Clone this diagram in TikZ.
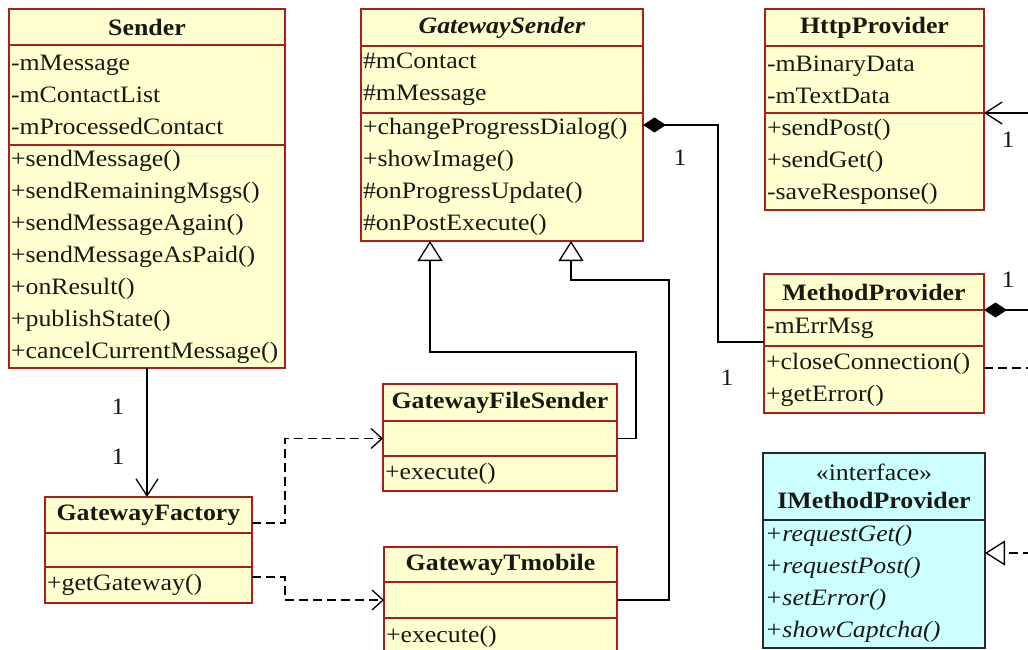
\documentclass[tikz,border=0pt]{standalone}
\usepackage{fontspec}
\setmainfont{Liberation Serif}[FakeStretch=1.1]
\usetikzlibrary{arrows.meta}
\definecolor{umlred}{RGB}{170,30,30}
\definecolor{umlyellow}{RGB}{255,255,208}
\definecolor{umlcyan}{RGB}{204,255,255}
\definecolor{umlgray}{RGB}{40,40,40}
\definecolor{umltext}{RGB}{25,25,20}
\newcommand\umlfont{\fontsize{23.5bp}{32bp}\selectfont}
\tikzset{
  cls/.style={draw=umlred, fill=umlyellow, line width=1.3bp, anchor=north west,
    inner xsep=2bp, inner ysep=0pt, outer sep=0pt, text=umltext, font=\umlfont},
  ttl/.style={cls, align=center, font=\umlfont\bfseries},
  cmp/.style={cls, align=left},
  iface/.style={draw=umlgray, fill=umlcyan},
  conn/.style={draw=black, line width=1.3bp},
  dashline/.style={conn, dash pattern=on 9bp off 5bp},
  navarrow/.style={conn, -{Straight Barb[length=17bp,width=22bp]}},
  depend/.style={dashline, -{Straight Barb[length=11bp,width=20bp,line width=1.3bp]}},
  inherit/.style={conn, -{Triangle[open,length=20bp,width=25bp,line width=1.3bp]}},
  realize/.style={dashline, -{Triangle[open,length=20bp,width=25bp,line width=1.3bp]}},
  compos/.style={conn, {Diamond[length=23bp,width=15bp]}-},
  mult/.style={font=\umlfont, text=umltext, inner sep=0pt},
}
\begin{document}
\begin{tikzpicture}[x=1bp,y=-1bp]
\useasboundingbox (0,0) rectangle (1028,650);
\clip (0,0) rectangle (1028,650);
\fill[white] (0,0) rectangle (1028,650);

% Sender
\node[ttl, text width=272bp, minimum height=36bp] (sT) at (9,9) {Sender};
\node[cmp, text width=272bp, minimum height=100bp] (sA) at (9,45) {-mMessage\\-mContactList\\-mProcessedContact};
\node[cmp, text width=272bp, minimum height=223bp] (sM) at (9,145) {+sendMessage()\\+sendRemainingMsgs()\\+sendMessageAgain()\\+sendMessageAsPaid()\\+onResult()\\+publishState()\\+cancelCurrentMessage()};

% GatewaySender
\node[ttl, text width=278bp, minimum height=37bp] (gT) at (361,9) {\textit{GatewaySender}};
\node[cmp, text width=278bp, minimum height=67bp] (gA) at (361,46) {\#mContact\\\#mMessage};
\node[cmp, text width=278bp, minimum height=128bp] (gM) at (361,113) {+changeProgressDialog()\\+showImage()\\\#onProgressUpdate()\\\#onPostExecute()};

% HttpProvider
\node[ttl, text width=215bp, minimum height=37bp] (hT) at (765,9) {HttpProvider};
\node[cmp, text width=215bp, minimum height=67bp] (hA) at (765,46) {-mBinaryData\\-mTextData};
\node[cmp, text width=215bp, minimum height=97bp] (hM) at (765,113) {+sendPost()\\+sendGet()\\-saveResponse()};

% MethodProvider
\node[ttl, text width=216bp, minimum height=36bp] (mT) at (764,274) {MethodProvider};
\node[cmp, text width=216bp, minimum height=36bp] (mA) at (764,310) {-mErrMsg};
\node[cmp, text width=216bp, minimum height=67bp] (mM) at (764,346) {+closeConnection()\\+getError()};

% GatewayFactory
\node[ttl, text width=203bp, minimum height=36bp] (fT) at (45,497) {GatewayFactory};
\node[cmp, text width=203bp, minimum height=34bp] (fA) at (45,533) {};
\node[cmp, text width=203bp, minimum height=36bp] (fM) at (45,567) {+getGateway()};

% GatewayFileSender
\node[ttl, text width=230bp, minimum height=37bp] (fsT) at (383,384) {GatewayFileSender};
\node[cmp, text width=230bp, minimum height=35bp] (fsA) at (383,421) {};
\node[cmp, text width=230bp, minimum height=35bp] (fsM) at (383,456) {+execute()};

% GatewayTmobile
\node[ttl, text width=229bp, minimum height=35bp] (tmT) at (384,547) {GatewayTmobile};
\node[cmp, text width=229bp, minimum height=36bp] (tmA) at (384,582) {};
\node[cmp, text width=229bp, minimum height=37bp] (tmM) at (384,618) {+execute()};

% IMethodProvider
\node[ttl, iface, text width=218bp, minimum height=67bp, font=\fontsize{23.5bp}{28bp}\selectfont] (iT) at (763,453) {«interface»\\\textbf{IMethodProvider}};
\node[cmp, iface, text width=218bp, minimum height=128bp, font=\umlfont\itshape] (iM) at (763,520) {+requestGet()\\+requestPost()\\+setError()\\+showCaptcha()};

% free ends at the right edge
\coordinate (hx) at (1032,113);
\coordinate (mx) at (1032,310);
\coordinate (dx) at (1032,368);
\coordinate (ix) at (1032,553);

% connectors
\draw[navarrow] (sM.south) -- (sM.south |- fT.north);
\draw[compos] ([yshift=-12bp]gM.north east) -- ++(75,0) |- ([yshift=4bp]mA.south west);
\draw[inherit] (fsA.east) -- ++(19,0) -- ++(0,-86.5) -| ([xshift=69bp]gM.south west);
\draw[inherit] (tmA.east) -- ++(52,0) -- ++(0,-320) -| ([xshift=210bp]gM.south west);
\draw[depend] ([yshift=-8bp]fT.east) -- ++(33,0) |- (fsA.west);
\draw[depend] ([yshift=8bp]fM.east) -- ++(33,0) |- (tmA.west);
\draw[navarrow] (hx) -- (hx -| hM.east);
\draw[compos] (mA.north east) -- (mx);
\draw[dashline] (dx -| mM.east) -- (dx);
\draw[realize] (ix) -- (ix -| iM.east);

% multiplicities
\node[mult] (l1) at (118,407) {1};
\node[mult] (l2) at (118,457) {1};
\node[mult] (l3) at (680,158) {1};
\node[mult] (l4) at (727,378) {1};
\node[mult] (l5) at (1008,140) {1};
\node[mult] (l6) at (1008,280) {1};
\end{tikzpicture}
\end{document}
